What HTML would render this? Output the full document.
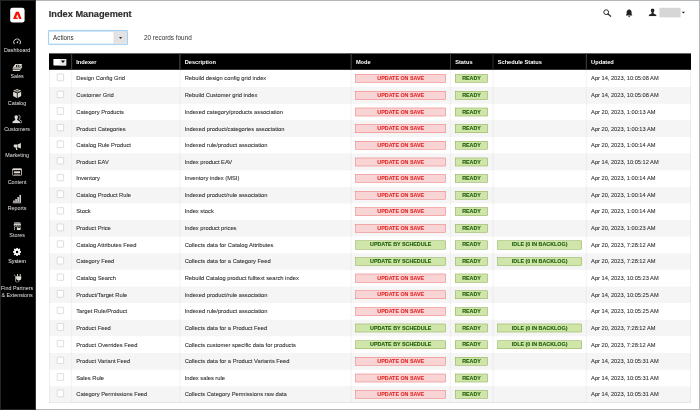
<!DOCTYPE html>
<html lang="en"><head><meta charset="utf-8"><title>Index Management</title>
<style>
html,body{margin:0;padding:0;background:#fff;}
body{width:700px;height:410px;overflow:hidden;font-family:"Liberation Sans",sans-serif;}
#frame{position:relative;width:700px;height:410px;overflow:hidden;background:linear-gradient(90deg,#000 0,#000 35.8px,#fff 35.8px);}
#view{position:absolute;left:1px;top:1px;width:698px;height:408px;overflow:hidden;filter:blur(.3px);}
#page{position:absolute;left:0;top:0;width:1745px;height:1020px;transform:scale(.4);transform-origin:0 0;background:#fff;color:#303030;font-size:14.4px;}
.bd{position:absolute;background:rgba(77,88,95,.43);}
.bt{left:0;top:0;width:700px;height:1px;}
.bb{left:0;top:408.7px;width:700px;height:1.3px;}
.bl{left:0;top:1px;width:1px;height:407.7px;}
.br{left:699px;top:1px;width:1px;height:407.7px;}
#side{position:absolute;left:0;top:0;width:87px;height:1020px;background:#000;}
#logo{position:absolute;left:22.5px;top:17.25px;width:36.75px;height:36.5px;background:#fff;border-radius:6px;}
#logo svg{position:absolute;left:0;top:0;}
.ic{position:absolute;display:block;}
.lb{position:absolute;left:-13.5px;width:107.5px;text-align:center;white-space:nowrap;color:#e6e3df;font-size:13.4px;line-height:18px;}
.lb.act{color:#fff;}
h1{position:absolute;left:119.5px;top:17px;margin:0;font-size:23px;line-height:30px;font-weight:bold;color:#2f2f2f;white-space:nowrap;-webkit-text-stroke:0.45px #2f2f2f;}
#sel{position:absolute;left:118.25px;top:73.5px;width:198.5px;height:35.75px;box-sizing:border-box;border:2px solid #8cc1ee;border-radius:2px;background:#fff;box-shadow:0 0 2px rgba(80,160,235,.4);}
#sel .tx{position:absolute;left:10px;top:1px;line-height:31.75px;color:#303030;font-size:15.7px;}
#sel .btn{position:absolute;right:0;top:0;width:33px;height:31.75px;background:#e3e3e3;border-left:1px solid #cfcfcf;box-sizing:border-box;}
#sel .btn:after{content:"";position:absolute;left:12px;top:14px;border-left:4.5px solid transparent;border-right:4.5px solid transparent;border-top:5px solid #2f2f2f;}
#rec{position:absolute;left:357.5px;top:81px;line-height:22px;font-size:15.9px;white-space:nowrap;}
#hd{position:absolute;top:0;left:0;}
#hd svg{position:absolute;}
#uname{position:absolute;left:1646px;top:16.5px;width:53px;height:24.5px;background:#d6d6d6;}
#ucar{position:absolute;left:1702px;top:26.5px;border-left:4.2px solid transparent;border-right:4.2px solid transparent;border-top:4.6px solid #222;}
table{position:absolute;left:120.1px;top:131px;width:1604.9px;border-collapse:separate;border-spacing:0;table-layout:fixed;}
th{background:#000;color:#fff;font-weight:bold;text-align:left;height:40.75px;padding:0.5px 0 0 12px;box-sizing:border-box;position:relative;font-size:14.2px;white-space:nowrap;}
th:before{content:"";position:absolute;left:-0.75px;top:0;bottom:0;width:2.5px;background:#383838;}
th.c0:before{display:none;}
th.c0{padding:0;}
tr:first-child td{height:43.5px;}
td{height:41.55px;padding:0 0 1px 11px;-webkit-text-stroke:0.2px #303030;box-sizing:border-box;border-left:1px dashed #d0d0d0;white-space:nowrap;overflow:hidden;vertical-align:middle;color:#303030;}
td.c0{border-left:1px solid #d6d6d6;padding:0;}
td:last-child{border-right:1px solid #d6d6d6;font-size:14.2px;}
tr:last-child td{border-bottom:1px solid #d6d6d6;}
tr.alt td{background:#f5f5f5;}
td.b{padding:0 11px 0 10px;-webkit-text-stroke:0;}
td.b:nth-child(5){padding:0 12.5px 0 11px;}
.cb{display:block;position:relative;top:-2.5px;margin:0 auto;width:17.5px;height:17.5px;box-sizing:border-box;border:1px solid #adadad;border-radius:2px;background:#fff;}
.sev{display:block;box-sizing:border-box;height:21.25px;line-height:18px;border:1px solid;text-align:center;font-weight:bold;font-size:13.4px;}
.crit{background:#f9d4d4;border-color:#e85c5c;color:#e22626;}
.ok{background:#d0e5a9;border-color:#7c9e42;color:#185b00;}
.sev i{font-style:normal;display:inline-block;transform:scaleY(1.13);-webkit-text-stroke:0.2px currentColor;}
#msel{position:absolute;left:11.4px;top:13.75px;width:31.5px;height:16.25px;background:#fff;border-radius:1px;}
#msel:before{content:"";position:absolute;left:16px;top:0;width:15.5px;height:16.25px;background:#e6e6e6;}
#msel:after{content:"";position:absolute;left:19px;top:4.6px;border-left:5.2px solid transparent;border-right:5.2px solid transparent;border-top:6.4px solid #000;}

</style></head><body>
<div id="frame">
<div id="view"><div id="page">
<div id="side">
<div id="logo"><svg style="left:7.4px;top:8.3px" width="21.7" height="19.6" viewBox="0 0 30 26.5"><path fill="#fa0f00" d="M10.500 0H19.500L30 26.500H21.700L15 9.800L10.400 21.200H15.300L17.300 26.500H0z"/></svg></div>

<svg class="ic" style="left:30.00px;top:93.00px" width="20.50" height="16.50" viewBox="0 0 20.5 16.5" preserveAspectRatio="none"><path d="M3.3 15A8.5 8.5 0 1 1 17.2 15" fill="none" stroke="#dfdbd6" stroke-width="2.4"/><path d="M8.4 11.4L13.8 5L12.1 12.8z" fill="#dfdbd6"/></svg>
<div class="lb" style="top:113.50px">Dashboard</div>
<svg class="ic" style="left:27.50px;top:156.50px" width="25.50" height="18.25" viewBox="0 0 26 18" preserveAspectRatio="none"><path d="M8 0.500h17.500l-7 9.500H1z" fill="#dfdbd6"/><path d="M1 11.200h17.500l7-9.500v2.800l-7 9.500H1z M1 15.200h17.500l7-9.500v2.800l-7 9.500H1z" fill="#dfdbd6"/><ellipse cx="14" cy="5.500" rx="4.800" ry="3" fill="#000"/><ellipse cx="14" cy="5.500" rx="2.300" ry="1.900" fill="#fff"/></svg>
<div class="lb" style="top:179.50px">Sales</div>
<svg class="ic" style="left:29.75px;top:220.00px" width="21.25" height="22.50" viewBox="0 0 21 22.5" preserveAspectRatio="none"><path d="M10.500 0.300L20.700 4.500 10.500 8.700 .3 4.500z M.3 6.700l9.200 3.900v11.600L.3 17.800z M20.700 6.700l-9.200 3.900v11.600l9.200-4.400z" fill="#dfdbd6"/><path d="M5.400 2.400l10.200 4.200 M15.600 2.400L5.400 6.600" stroke="#000" stroke-width="1.300"/></svg>
<div class="lb" style="top:245.75px">Catalog</div>
<svg class="ic" style="left:27.50px;top:283.50px" width="25.50" height="22.00" viewBox="0 0 25.500 22" preserveAspectRatio="none"><path d="M15.500 1.200c3.200-.3 4.600 2.300 4.200 5.600-.3 2-1 3.400-1.900 4.300l.4 2 6.300 4v3.400h-4" fill="none" stroke="#dfdbd6" stroke-width="1.700"/><path d="M10 1.500c3 0 4.700 2.200 4.200 5.700-.3 2-1 3.300-1.900 4.200l.4 2.300 7 4.300v3.500H.3V18l7-4.300.4-2.300c-.9-.9-1.600-2.200-1.900-4.200C5.300 3.700 7 1.500 10 1.500z" fill="#dfdbd6"/></svg>
<div class="lb" style="top:311.75px">Customers</div>
<svg class="ic" style="left:30.50px;top:355.00px" width="19.00" height="17.50" viewBox="0 0 19 17.5" preserveAspectRatio="none"><path d="M18.700 .3v13.400l-8.200-3.200H8.300l1.900 6.700H6.800L5 10.500H3C1.300 10.500 .3 9.500 .3 8V6C.3 4.500 1.300 3.500 3 3.500h7.500z" fill="#dfdbd6"/><path d="M10.300 3.500v7" stroke="#000" stroke-width="1.100"/></svg>
<div class="lb" style="top:378.00px">Marketing</div>
<svg class="ic" style="left:28.25px;top:417.75px" width="24.25" height="19.25" viewBox="0 0 24.250 19.250" preserveAspectRatio="none"><rect x="1" y="1" width="22.250" height="17.250" rx="1.400" fill="none" stroke="#dfdbd6" stroke-width="2"/><rect x="1" y="1" width="22.250" height="3.800" fill="#dfdbd6"/><rect x="4.600" y="7.800" width="15" height="4.600" fill="#dfdbd6"/><rect x="4.600" y="14.200" width="15" height="1.500" fill="#dfdbd6"/></svg>
<div class="lb" style="top:444.00px">Content</div>
<svg class="ic" style="left:29.00px;top:484.25px" width="22.00" height="22.00" viewBox="0 0 22 22" preserveAspectRatio="none"><path d="M0 19.800h22V22H0z M1.500 15h3.800v4H1.500z M6.700 11h3.800v8H6.700z M11.900 6.200h3.800V19h-3.800z M17.100 0.300h3.800V19h-3.800z" fill="#dfdbd6"/></svg>
<div class="lb" style="top:510.00px">Reports</div>
<svg class="ic" style="left:30.50px;top:553.00px" width="19.50" height="19.75" viewBox="0 0 19.500 19.750" preserveAspectRatio="none"><path d="M2.600 .3h14.300l2.400 6.200c0 1.500-.9 2.400-2.300 2.400s-2.400-.9-2.400-2.400c0 1.500-1 2.400-2.400 2.400S9.800 8 9.800 6.500C9.800 8 8.800 8.900 7.400 8.900S5 8 5 6.500C5 8 4.100 8.900 2.600 8.900S.2 8 .2 6.500z M1.600 10.600h16.300v8.900H1.600z" fill="#dfdbd6"/><rect x="3.300" y="12" width="5.400" height="7.750" fill="#000"/><rect x="10.300" y="11.600" width="6" height="2.400" fill="#000"/><path d="M1 3.600h17.500" stroke="#000" stroke-width="1"/></svg>
<div class="lb" style="top:576.00px">Stores</div>
<svg class="ic" style="left:29.75px;top:617.25px" width="20.25" height="20.50" viewBox="0 0 22 22" preserveAspectRatio="none"><g fill="#ffffff"><circle cx="11" cy="11" r="7.600"/><rect x="8.700" y="0" width="4.600" height="22" rx=".8"/><rect x="8.700" y="0" width="4.600" height="22" rx=".8" transform="rotate(45 11 11)"/><rect x="8.700" y="0" width="4.600" height="22" rx=".8" transform="rotate(90 11 11)"/><rect x="8.700" y="0" width="4.600" height="22" rx=".8" transform="rotate(135 11 11)"/></g><circle cx="11" cy="11" r="3.400" fill="#000"/></svg>
<div class="lb act" style="top:642.00px">System</div>
<svg class="ic" style="left:30.50px;top:682.25px" width="20.75" height="22.00" viewBox="0 0 20.750 22" preserveAspectRatio="none"><path d="M10.200 0v6.500 M17 0v6.500" stroke="#dfdbd6" stroke-width="2.200"/><path d="M6.700 6h13.800v4.500c0 3-2 5.300-4.900 5.800h-4c-2.900-.5-4.900-2.800-4.900-5.800z" fill="#dfdbd6"/><path d="M13.600 15.500v2c0 2.200-1.600 3.700-4 3.700s-4.300-1.500-4.300-4V7.500C5.300 4.500 3.500 3 1 3.800" fill="none" stroke="#dfdbd6" stroke-width="1.700"/></svg>
<div class="lb" style="top:708.50px">Find Partners</div>
<div class="lb" style="top:726.50px">&amp; Extensions</div>
</div>

<h1>Index Management</h1>

<div id="hd">
<svg style="left:1505px;top:20px" width="21" height="20" viewBox="0 0 21 20"><circle cx="8" cy="8" r="6" fill="none" stroke="#222" stroke-width="2.300"/><path d="M12.500 12.500L19.500 18.500" stroke="#222" stroke-width="3" stroke-linecap="round"/></svg>
<svg style="left:1562px;top:20px" width="17" height="21" viewBox="0 0 17 21"><path d="M8.500 0.500c1 0 1.500.6 1.500 1.500 3 .8 4.500 3.200 4.500 6.500v4.500l2 2.500v1H0v-1l2-2.500V8.500C2 5.200 3.500 2.800 6.500 2 6.500 1.100 7.500 .5 8.500 .5z M6 18h5c0 1.500-1 2.500-2.500 2.500S6 19.500 6 18z" fill="#222"/></svg>
<svg style="left:1619px;top:18px" width="20" height="20" viewBox="0 0 20 20"><path d="M10 0.500c3 0 4.800 2.200 4.300 5.800-.3 2-1 3.400-2 4.400l.4 2.300 7 4v3H.3v-3l7-4 .4-2.300c-1-1-1.700-2.400-2-4.400C5.200 2.700 7 .5 10 .5z" fill="#222"/></svg>
<div id="uname"></div><div id="ucar"></div>
</div>

<div id="sel"><span class="tx">Actions</span><span class="btn"></span></div>
<div id="rec">20 records found</div>

<table>
<colgroup><col style="width:56px"><col style="width:271px"><col style="width:428.15px"><col style="width:248.25px"><col style="width:106.25px"><col style="width:233.5px"><col style="width:261.75px"></colgroup>
<thead><tr><th class="c0"><div style="position:relative;height:40.75px"><div id="msel"></div></div></th><th>Indexer</th><th>Description</th><th>Mode</th><th>Status</th><th>Schedule Status</th><th>Updated</th></tr></thead>
<tbody>
<tr class=""><td class="c0"><span class="cb"></span></td><td>Design Config Grid</td><td>Rebuild design config grid index</td><td class="b"><span class="sev crit"><i>UPDATE ON SAVE</i></span></td><td class="b"><span class="sev ok"><i>READY</i></span></td><td class="b"></td><td>Apr 14, 2023, 10:05:08 AM</td></tr>
<tr class="alt"><td class="c0"><span class="cb"></span></td><td>Customer Grid</td><td>Rebuild Customer grid index</td><td class="b"><span class="sev crit"><i>UPDATE ON SAVE</i></span></td><td class="b"><span class="sev ok"><i>READY</i></span></td><td class="b"></td><td>Apr 14, 2023, 10:05:08 AM</td></tr>
<tr class=""><td class="c0"><span class="cb"></span></td><td>Category Products</td><td>Indexed category/products association</td><td class="b"><span class="sev crit"><i>UPDATE ON SAVE</i></span></td><td class="b"><span class="sev ok"><i>READY</i></span></td><td class="b"></td><td>Apr 20, 2023, 1:00:13 AM</td></tr>
<tr class="alt"><td class="c0"><span class="cb"></span></td><td>Product Categories</td><td>Indexed product/categories association</td><td class="b"><span class="sev crit"><i>UPDATE ON SAVE</i></span></td><td class="b"><span class="sev ok"><i>READY</i></span></td><td class="b"></td><td>Apr 20, 2023, 1:00:13 AM</td></tr>
<tr class=""><td class="c0"><span class="cb"></span></td><td>Catalog Rule Product</td><td>Indexed rule/product association</td><td class="b"><span class="sev crit"><i>UPDATE ON SAVE</i></span></td><td class="b"><span class="sev ok"><i>READY</i></span></td><td class="b"></td><td>Apr 20, 2023, 1:00:14 AM</td></tr>
<tr class="alt"><td class="c0"><span class="cb"></span></td><td>Product EAV</td><td>Index product EAV</td><td class="b"><span class="sev crit"><i>UPDATE ON SAVE</i></span></td><td class="b"><span class="sev ok"><i>READY</i></span></td><td class="b"></td><td>Apr 14, 2023, 10:05:12 AM</td></tr>
<tr class=""><td class="c0"><span class="cb"></span></td><td>Inventory</td><td>Inventory index (MSI)</td><td class="b"><span class="sev crit"><i>UPDATE ON SAVE</i></span></td><td class="b"><span class="sev ok"><i>READY</i></span></td><td class="b"></td><td>Apr 20, 2023, 1:00:14 AM</td></tr>
<tr class="alt"><td class="c0"><span class="cb"></span></td><td>Catalog Product Rule</td><td>Indexed product/rule association</td><td class="b"><span class="sev crit"><i>UPDATE ON SAVE</i></span></td><td class="b"><span class="sev ok"><i>READY</i></span></td><td class="b"></td><td>Apr 20, 2023, 1:00:14 AM</td></tr>
<tr class=""><td class="c0"><span class="cb"></span></td><td>Stock</td><td>Index stock</td><td class="b"><span class="sev crit"><i>UPDATE ON SAVE</i></span></td><td class="b"><span class="sev ok"><i>READY</i></span></td><td class="b"></td><td>Apr 20, 2023, 1:00:14 AM</td></tr>
<tr class="alt"><td class="c0"><span class="cb"></span></td><td>Product Price</td><td>Index product prices</td><td class="b"><span class="sev crit"><i>UPDATE ON SAVE</i></span></td><td class="b"><span class="sev ok"><i>READY</i></span></td><td class="b"></td><td>Apr 20, 2023, 1:00:23 AM</td></tr>
<tr class=""><td class="c0"><span class="cb"></span></td><td>Catalog Attributes Feed</td><td>Collects data for Catalog Attributes</td><td class="b"><span class="sev ok"><i>UPDATE BY SCHEDULE</i></span></td><td class="b"><span class="sev ok"><i>READY</i></span></td><td class="b"><span class="sev ok"><i>IDLE (0 IN BACKLOG)</i></span></td><td>Apr 20, 2023, 7:28:12 AM</td></tr>
<tr class="alt"><td class="c0"><span class="cb"></span></td><td>Category Feed</td><td>Collects data for a Category Feed</td><td class="b"><span class="sev ok"><i>UPDATE BY SCHEDULE</i></span></td><td class="b"><span class="sev ok"><i>READY</i></span></td><td class="b"><span class="sev ok"><i>IDLE (0 IN BACKLOG)</i></span></td><td>Apr 20, 2023, 7:28:12 AM</td></tr>
<tr class=""><td class="c0"><span class="cb"></span></td><td>Catalog Search</td><td>Rebuild Catalog product fulltext search index</td><td class="b"><span class="sev crit"><i>UPDATE ON SAVE</i></span></td><td class="b"><span class="sev ok"><i>READY</i></span></td><td class="b"></td><td>Apr 14, 2023, 10:05:23 AM</td></tr>
<tr class="alt"><td class="c0"><span class="cb"></span></td><td>Product/Target Rule</td><td>Indexed product/rule association</td><td class="b"><span class="sev crit"><i>UPDATE ON SAVE</i></span></td><td class="b"><span class="sev ok"><i>READY</i></span></td><td class="b"></td><td>Apr 14, 2023, 10:05:25 AM</td></tr>
<tr class=""><td class="c0"><span class="cb"></span></td><td>Target Rule/Product</td><td>Indexed rule/product association</td><td class="b"><span class="sev crit"><i>UPDATE ON SAVE</i></span></td><td class="b"><span class="sev ok"><i>READY</i></span></td><td class="b"></td><td>Apr 14, 2023, 10:05:25 AM</td></tr>
<tr class="alt"><td class="c0"><span class="cb"></span></td><td>Product Feed</td><td>Collects data for a Product Feed</td><td class="b"><span class="sev ok"><i>UPDATE BY SCHEDULE</i></span></td><td class="b"><span class="sev ok"><i>READY</i></span></td><td class="b"><span class="sev ok"><i>IDLE (0 IN BACKLOG)</i></span></td><td>Apr 20, 2023, 7:28:12 AM</td></tr>
<tr class=""><td class="c0"><span class="cb"></span></td><td>Product Overrides Feed</td><td>Collects customer specific data for products</td><td class="b"><span class="sev ok"><i>UPDATE BY SCHEDULE</i></span></td><td class="b"><span class="sev ok"><i>READY</i></span></td><td class="b"><span class="sev ok"><i>IDLE (0 IN BACKLOG)</i></span></td><td>Apr 20, 2023, 7:28:12 AM</td></tr>
<tr class="alt"><td class="c0"><span class="cb"></span></td><td>Product Variant Feed</td><td>Collects data for a Product Variants Feed</td><td class="b"><span class="sev crit"><i>UPDATE ON SAVE</i></span></td><td class="b"><span class="sev ok"><i>READY</i></span></td><td class="b"></td><td>Apr 14, 2023, 10:05:31 AM</td></tr>
<tr class=""><td class="c0"><span class="cb"></span></td><td>Sales Rule</td><td>Index sales rule</td><td class="b"><span class="sev crit"><i>UPDATE ON SAVE</i></span></td><td class="b"><span class="sev ok"><i>READY</i></span></td><td class="b"></td><td>Apr 14, 2023, 10:05:31 AM</td></tr>
<tr class="alt"><td class="c0"><span class="cb"></span></td><td>Category Permissions Feed</td><td>Collects Category Permissions raw data</td><td class="b"><span class="sev crit"><i>UPDATE ON SAVE</i></span></td><td class="b"><span class="sev ok"><i>READY</i></span></td><td class="b"></td><td>Apr 14, 2023, 10:05:31 AM</td></tr>
</tbody>
</table>

</div></div>
<div class="bd bt"></div><div class="bd bb"></div><div class="bd bl"></div><div class="bd br"></div>
</div>
</body></html>
